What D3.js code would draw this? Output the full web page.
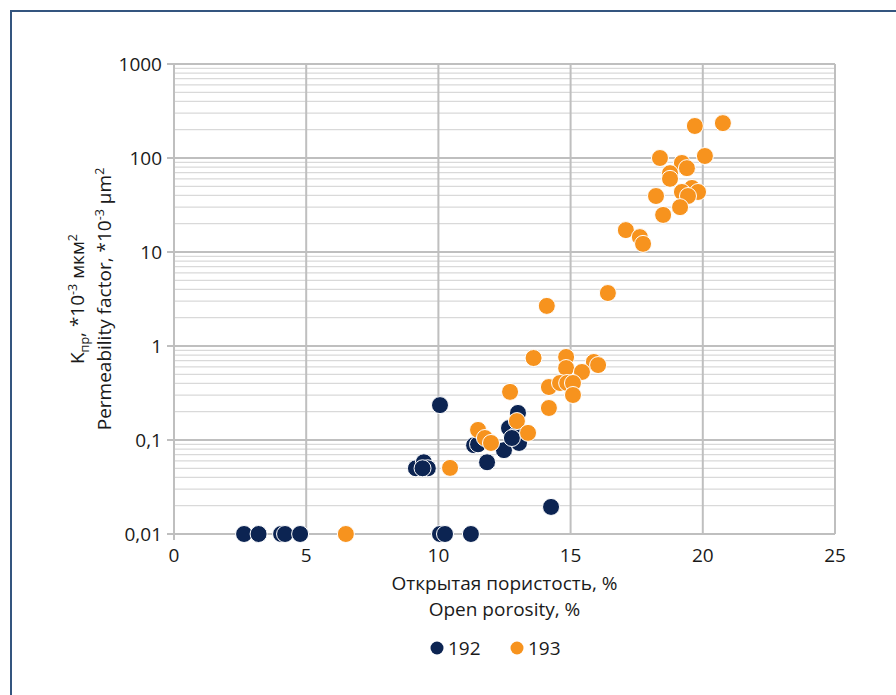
<!DOCTYPE html>
<html>
<head>
<meta charset="utf-8">
<script src="https://cdn.jsdelivr.net/npm/d3@7"></script>
<style>
  body { margin: 0; background: #fff; }
  svg { display: block; font-family: "Open Sans", "Noto Sans", sans-serif; }
</style>
</head>
<body>
<svg></svg>
<script>
const width =  896,
      height = 695

// well 192
const porosity192 = [2.65, 3.2, 4.05, 4.2, 4.77, 10.06, 10.25, 11.23, 10.06, 14.26,
  9.15, 9.45, 9.6, 9.4, 11.84, 11.35, 11.5, 12.48, 12.67, 13.01, 12.94, 13.05, 12.78]
const perm192 = [0.01, 0.01, 0.01, 0.01, 0.01, 0.01, 0.01, 0.01, 0.235, 0.0194,
  0.05, 0.058, 0.05, 0.05, 0.058, 0.088, 0.09, 0.078, 0.134, 0.194, 0.113, 0.093, 0.105]

// well 193
const porosity193 = [6.5, 10.44, 12.71, 11.5, 11.76, 11.99, 12.97, 13.39, 14.18, 14.18,
  13.6, 14.1, 16.41, 14.83, 14.83, 15.88, 16.04, 15.43, 14.6, 14.87, 15.09, 15.09,
  19.7, 20.76, 18.38, 20.08, 19.21, 19.4, 18.76, 18.76, 19.59, 19.82, 19.21, 19.44,
  18.23, 19.14, 18.5, 17.09, 17.62, 17.74]
const perm193 = [0.01, 0.0505, 0.325, 0.128, 0.105, 0.093, 0.159, 0.119, 0.219, 0.366,
  0.745, 2.67, 3.66, 0.764, 0.583, 0.676, 0.627, 0.529, 0.404, 0.404, 0.404, 0.301,
  219, 235, 100, 105, 88.5, 78, 69, 60, 48, 43.5, 43.5, 39.4,
  39.4, 30, 24.8, 17.1, 14.4, 12.2]

const xTicks = [0, 5, 10, 15, 20, 25]
const yTicks = [0.01, 0.1, 1, 10, 100, 1000]
const yTickLabels = ["0,01", "0,1", "1", "10", "100", "1000"]

const seriesNames = ["192", "193"]
const seriesColors = ["#0c2452", "#f7931e"]

const margin = {top: 64, right: 61, bottom: 161, left: 174}
const fs = "19px", fsSmall = "12.5px"

const svg = d3.select("svg")
  .attr("width", width)
  .attr("height", height)

// frame (top + left only)
svg.append("path")
  .attr("d", `M11,${height} L11,11 L${width},11`)
  .attr("fill", "none")
  .attr("stroke", "#34557f")
  .attr("stroke-width", 2)

const x = d3.scaleLinear()
  .domain([0, 25])
  .range([margin.left, width - margin.right])

const y = d3.scaleLog()
  .domain([0.01, 1000])
  .range([height - margin.bottom, margin.top])

const g = svg.append("g")

// minor horizontal grid
const minor = []
yTicks.slice(0, -1).forEach(t => { for (let k = 2; k <= 9; k++) minor.push(t * k) })

g.selectAll("line.minor")
  .data(minor)
  .enter().append("line")
    .attr("x1", x(0)).attr("x2", x(25))
    .attr("y1", d => y(d)).attr("y2", d => y(d))
    .attr("stroke", "#d9d9d9")
    .attr("stroke-width", 1.2)

// major horizontal grid
g.selectAll("line.hmajor")
  .data(yTicks)
  .enter().append("line")
    .attr("x1", x(0) - 7).attr("x2", x(25))
    .attr("y1", d => y(d)).attr("y2", d => y(d))
    .attr("stroke", "#bfbfbf")
    .attr("stroke-width", 2)

// vertical grid
g.selectAll("line.vmajor")
  .data(xTicks)
  .enter().append("line")
    .attr("x1", d => x(d)).attr("x2", d => x(d))
    .attr("y1", y(1000)).attr("y2", d => d === 0 ? y(0.01) + 6 : y(0.01))
    .attr("stroke", "#bfbfbf")
    .attr("stroke-width", 2)

// tick labels
g.selectAll("text.ylab")
  .data(yTicks)
  .enter().append("text")
    .attr("x", x(0) - 12)
    .attr("y", d => y(d))
    .attr("dy", "0.35em")
    .attr("text-anchor", "end")
    .style("font-size", fs)
    .attr("fill", "#1a1a1a")
    .text((d, i) => yTickLabels[i])

g.selectAll("text.xlab")
  .data(xTicks)
  .enter().append("text")
    .attr("x", d => x(d))
    .attr("y", y(0.01) + 28)
    .attr("text-anchor", "middle")
    .style("font-size", fs)
    .attr("fill", "#1a1a1a")
    .text(d => d)

// axis titles
const cx = (x(0) + x(25)) / 2
svg.append("text")
  .attr("x", cx).attr("y", 590)
  .attr("text-anchor", "middle")
  .style("font-size", fs)
  .attr("fill", "#1a1a1a")
  .text("Открытая пористость, %")
svg.append("text")
  .attr("x", cx).attr("y", 616)
  .attr("text-anchor", "middle")
  .style("font-size", fs)
  .attr("fill", "#1a1a1a")
  .text("Open porosity, %")

const cy = (y(0.01) + y(1000)) / 2
const yt1 = svg.append("text")
  .attr("transform", `translate(84,${cy}) rotate(-90)`)
  .attr("text-anchor", "middle")
  .style("font-size", fs)
  .attr("fill", "#1a1a1a")
yt1.append("tspan").text("K")
yt1.append("tspan").attr("dy", 5).style("font-size", fsSmall).text("пр")
yt1.append("tspan").attr("dy", -5).text(", *10")
yt1.append("tspan").attr("dy", -7).style("font-size", fsSmall).text("-3")
yt1.append("tspan").attr("dy", 7).text(" мкм")
yt1.append("tspan").attr("dy", -7).style("font-size", fsSmall).text("2")

const yt2 = svg.append("text")
  .attr("transform", `translate(111,${cy}) rotate(-90)`)
  .attr("text-anchor", "middle")
  .style("font-size", fs)
  .attr("fill", "#1a1a1a")
yt2.append("tspan").text("Permeability factor, *10")
yt2.append("tspan").attr("dy", -7).style("font-size", fsSmall).text("-3")
yt2.append("tspan").attr("dy", 7).text(" µm")
yt2.append("tspan").attr("dy", -7).style("font-size", fsSmall).text("2")

// points
const series = [
  porosity192.map((p, i) => ({p, k: perm192[i], s: 0})),
  porosity193.map((p, i) => ({p, k: perm193[i], s: 1}))
]

series.forEach(data => {
  g.selectAll(null)
    .data(data)
    .enter().append("circle")
      .attr("cx", d => x(d.p))
      .attr("cy", d => y(d.k))
      .attr("r", 8.5)
      .attr("fill", d => seriesColors[d.s])
      .attr("stroke", "#fff")
      .attr("stroke-width", 1)
})

// legend
const legend = svg.selectAll("g.legend")
  .data(seriesNames)
  .enter().append("g")
    .attr("transform", (d, i) => `translate(${437 + i * 80},648)`)
legend.append("circle")
  .attr("r", 6.5)
  .attr("fill", (d, i) => seriesColors[i])
legend.append("text")
  .attr("x", 11)
  .attr("dy", "0.35em")
  .style("font-size", fs)
  .attr("fill", "#1a1a1a")
  .text(d => d)
</script>
</body>
</html>
